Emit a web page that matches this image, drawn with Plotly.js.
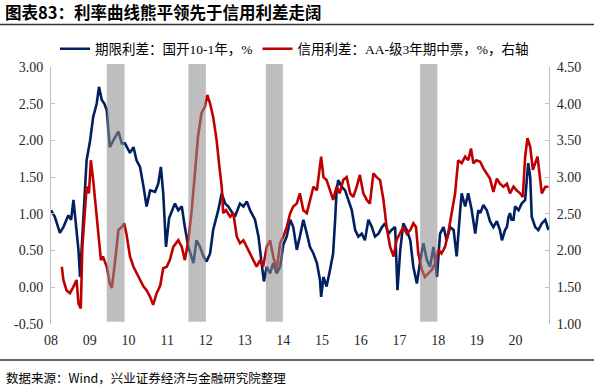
<!DOCTYPE html>
<html><head><meta charset="utf-8">
<script src="https://cdn.plot.ly/plotly-3.0.1.min.js"></script>
<style>html,body{margin:0;padding:0;background:#fff}#chart{width:594px;height:386px}</style>
</head><body><div id="chart"></div>
<script>
// ---------- data ----------
const titleText = '图表83：利率曲线熊平领先于信用利差走阔';
const sourceText = '数据来源：Wind，兴业证券经济与金融研究院整理';
const seriesNames = ['期限利差：国开10-1年，%', '信用利差：AA-级3年期中票，%，右轴'];

// term spread (left axis), decimal years
const termT = [
  2008.00,2008.10,2008.23,2008.32,2008.45,2008.52,2008.58,2008.64,2008.71,2008.75,
  2008.79,2008.88,2008.92,2009.01,2009.09,2009.18,2009.24,2009.31,2009.38,2009.44,
  2009.52,2009.61,2009.74,2009.83,2009.91,2010.04,2010.13,2010.21,2010.30,2010.39,
  2010.47,2010.56,2010.69,2010.77,2010.84,2010.90,2010.97,2011.05,2011.20,2011.29,
  2011.38,2011.46,2011.55,2011.68,2011.76,2011.85,2011.94,2012.02,2012.11,2012.19,
  2012.32,2012.41,2012.50,2012.58,2012.67,2012.75,2012.88,2012.97,2013.06,2013.14,
  2013.27,2013.36,2013.44,2013.50,2013.57,2013.66,2013.74,2013.83,2013.92,2014.00,
  2014.09,2014.18,2014.26,2014.35,2014.43,2014.52,2014.61,2014.69,2014.78,2014.87,
  2014.95,2014.98,2015.04,2015.12,2015.21,2015.29,2015.34,2015.38,2015.42,2015.51,
  2015.60,2015.68,2015.77,2015.86,2015.94,2016.03,2016.11,2016.20,2016.29,2016.37,
  2016.46,2016.55,2016.63,2016.72,2016.80,2016.89,2016.95,2017.02,2017.10,2017.19,
  2017.28,2017.36,2017.45,2017.54,2017.62,2017.71,2017.79,2017.88,2017.97,2018.05,
  2018.14,2018.22,2018.31,2018.40,2018.48,2018.57,2018.61,2018.70,2018.78,2018.87,
  2018.96,2019.04,2019.09,2019.17,2019.26,2019.34,2019.43,2019.52,2019.60,2019.65,
  2019.73,2019.78,2019.82,2019.86,2019.90,2019.95,2019.99,2020.08,2020.16,2020.25,
  2020.33,2020.38,2020.42,2020.51,2020.59,2020.68,2020.77,2020.85
];
const termV = [
  1.05,0.96,0.74,0.82,0.98,0.92,1.19,0.87,0.51,0.14,
  0.55,1.28,1.73,2.00,2.32,2.50,2.73,2.55,2.50,2.41,
  1.91,2.00,2.12,1.96,1.96,1.83,1.91,1.73,1.64,1.37,
  1.10,1.32,1.30,1.41,1.64,1.28,0.55,0.94,1.14,1.05,
  1.10,0.82,0.55,0.33,0.64,0.55,0.42,0.35,0.46,0.78,
  1.05,1.28,1.14,1.10,1.03,0.96,1.14,1.10,1.17,1.05,
  0.92,0.69,0.33,0.08,0.28,0.19,0.33,0.19,0.28,0.58,
  0.69,0.92,0.82,0.51,0.69,0.92,0.73,0.55,0.46,0.33,
  0.10,-0.13,0.14,0.01,0.24,0.46,0.92,1.32,1.46,1.37,
  1.32,1.19,1.05,0.78,0.69,0.73,0.64,0.92,0.82,0.69,
  0.73,0.82,0.87,0.73,0.78,0.82,-0.04,0.50,0.87,0.78,
  0.64,0.28,0.05,0.37,0.60,0.37,0.28,0.55,0.14,0.73,
  0.82,0.64,0.82,0.78,0.42,1.05,1.28,1.10,1.28,1.05,
  0.73,1.05,1.01,1.12,1.05,0.90,0.82,0.90,0.78,0.64,
  0.78,0.82,0.96,1.01,0.92,0.92,1.10,1.05,1.14,1.19,
  1.69,1.50,0.96,0.82,0.78,0.87,0.92,0.78
];

// credit spread (right axis), decimal years
const creditT = [
  2008.28,2008.32,2008.40,2008.49,2008.58,2008.66,2008.71,2008.77,2008.81,2008.86,
  2008.92,2008.98,2009.03,2009.09,2009.14,2009.22,2009.29,2009.34,2009.44,2009.52,
  2009.57,2009.66,2009.74,2009.83,2009.89,2009.95,2010.04,2010.13,2010.21,2010.30,
  2010.39,2010.47,2010.56,2010.64,2010.73,2010.82,2010.90,2010.99,2011.07,2011.16,
  2011.29,2011.38,2011.46,2011.55,2011.63,2011.72,2011.80,2011.89,2011.98,2012.04,
  2012.11,2012.19,2012.28,2012.35,2012.41,2012.45,2012.52,2012.63,2012.71,2012.80,
  2012.88,2012.97,2013.06,2013.14,2013.23,2013.31,2013.40,2013.48,2013.57,2013.66,
  2013.74,2013.83,2013.92,2014.00,2014.09,2014.18,2014.26,2014.35,2014.43,2014.52,
  2014.61,2014.69,2014.78,2014.87,2014.94,2014.98,2015.04,2015.12,2015.21,2015.29,
  2015.38,2015.46,2015.55,2015.64,2015.73,2015.81,2015.90,2015.98,2016.07,2016.16,
  2016.24,2016.33,2016.41,2016.50,2016.59,2016.67,2016.76,2016.85,2016.93,2017.02,
  2017.10,2017.19,2017.28,2017.36,2017.43,2017.49,2017.58,2017.66,2017.75,2017.84,
  2017.92,2018.01,2018.09,2018.18,2018.26,2018.35,2018.44,2018.52,2018.61,2018.70,
  2018.78,2018.85,2018.91,2018.99,2019.09,2019.17,2019.26,2019.34,2019.43,2019.52,
  2019.60,2019.69,2019.78,2019.86,2019.95,2020.03,2020.12,2020.19,2020.25,2020.31,
  2020.38,2020.45,2020.51,2020.57,2020.62,2020.68,2020.77,2020.85
];
const creditV = [
  1.78,1.60,1.46,1.42,1.51,1.60,1.28,1.21,2.05,2.37,
  2.87,2.78,3.23,2.96,2.69,2.32,1.87,1.92,1.78,1.55,
  1.49,1.87,2.28,2.32,2.37,2.23,1.92,1.78,1.69,1.60,
  1.51,1.46,1.37,1.26,1.42,1.52,1.76,1.78,1.87,2.05,
  2.14,2.05,1.87,2.14,2.51,3.05,3.55,3.87,3.96,4.12,
  4.00,3.82,3.50,3.14,2.87,2.51,2.55,2.46,2.51,2.19,
  2.10,2.14,2.05,1.96,1.87,1.78,1.87,1.78,2.05,2.14,
  1.92,1.74,2.10,2.19,2.32,2.51,2.60,2.64,2.78,2.55,
  2.51,2.69,2.87,2.82,3.10,3.28,3.00,2.96,2.82,2.69,
  2.87,2.78,2.96,3.00,2.78,2.73,2.87,3.03,2.78,2.69,
  2.64,3.05,3.00,2.96,2.69,2.32,2.05,1.92,2.15,2.23,
  2.32,2.23,2.28,2.37,2.32,1.96,1.74,1.64,1.69,1.74,
  1.83,2.01,1.96,2.05,2.23,2.51,2.78,3.23,3.19,3.28,
  3.23,3.39,3.19,3.23,3.21,3.12,3.05,2.98,2.80,2.98,
  2.91,2.87,2.91,2.78,2.87,2.82,2.78,2.73,3.28,3.53,
  3.41,3.10,3.19,3.28,3.05,2.78,2.87,2.87
];

// shaded periods
const shadeStart = ['2009-06-10','2011-07-20','2013-07-20','2017-07-15'];
const shadeEnd   = ['2009-11-25','2012-01-01','2013-12-28','2017-12-25'];

// axis ticks
const yearTicks  = ['2008-01-01','2009-01-01','2010-01-01','2011-01-01','2012-01-01','2013-01-01','2014-01-01','2015-01-01','2016-01-01','2017-01-01','2018-01-01','2019-01-01','2020-01-01'];
const yearLabels = ['08','09','10','11','12','13','14','15','16','17','18','19','20'];
const leftTicks  = [-0.5,0,0.5,1,1.5,2,2.5,3];
const rightTicks = [1,1.5,2,2.5,3,3.5,4,4.5];
const xRange = ['2008-01-01','2020-11-12'];

// ---------- helpers ----------
function decYearToDate(t){
  const y = Math.floor(t);
  const a = Date.UTC(y,0,1), b = Date.UTC(y+1,0,1);
  return new Date(a + (t-y)*(b-a)).toISOString().slice(0,10);
}
const W=594, H=386, M={l:51, r:45, t:67, b:62, pad:0};
const pw=W-M.l-M.r, ph=H-M.t-M.b;
const px2x = p => (p-M.l)/pw;
const px2y = p => (H-M.b-p)/ph;
const serif = 'Liberation Serif, "Noto Sans CJK SC", serif';
const axisGrey = '#bfbfbf';
const tickFont = {family: serif, size: 14, color: '#262626'};

const traces = [
  {x: termT.map(decYearToDate), y: termV, type:'scatter', mode:'lines', name: seriesNames[0],
   line:{color:'#002060', width:2.6}, xaxis:'x', yaxis:'y'},
  {x: creditT.map(decYearToDate), y: creditV, type:'scatter', mode:'lines', name: seriesNames[1],
   line:{color:'#C00000', width:2.6}, xaxis:'x', yaxis:'y2'}
];

const shapes = shadeStart.map((s,i)=>({
  type:'rect', xref:'x', yref:'paper', x0:s, x1:shadeEnd[i], y0:px2y(321.7), y1:px2y(64),
  fillcolor:'rgba(140,140,140,0.57)', line:{width:0}, layer:'above'
}));
shapes.push({type:'line', xref:'paper', yref:'paper', x0:px2x(0), x1:px2x(W), y0:px2y(24.6), y1:px2y(24.6), line:{color:'#333333', width:1.5}});
shapes.push({type:'line', xref:'paper', yref:'paper', x0:px2x(0), x1:px2x(W), y0:px2y(360), y1:px2y(360), line:{color:'#333333', width:1.5}});

const layout = {
  width:W, height:H, margin:M,
  paper_bgcolor:'#ffffff', plot_bgcolor:'rgba(0,0,0,0)',
  title:{text:titleText, x:5/W, xref:'container', xanchor:'left', y:1-13/H, yref:'container', yanchor:'middle',
         font:{family:'"Noto Sans CJK SC", sans-serif', size:16.5, weight:700, color:'#000'}},
  showlegend:true,
  legend:{orientation:'h', x:55/W, xref:'container', xanchor:'left', y:1-49/H, yref:'container', yanchor:'middle',
          font:{family:serif, size:13.5, color:'#000'}, itemwidth:30, bgcolor:'rgba(0,0,0,0)', traceorder:'normal'},
  xaxis:{type:'date', range:xRange, tickvals:yearTicks, ticktext:yearLabels, showline:false, ticks:'',
         showgrid:false, zeroline:false, tickfont:tickFont, ticklabelstandoff:6},
  xaxis2:{type:'date', overlaying:'x', anchor:'free', position:0.5/3.5, side:'top', range:xRange, tickvals:yearTicks,
          showticklabels:false, ticks:'outside', ticklen:4, tickcolor:axisGrey, showline:true, linecolor:axisGrey,
          linewidth:1, showgrid:false, zeroline:false},
  yaxis:{range:[-0.5,3], tickvals:leftTicks, ticktext:leftTicks.map(v=>v.toFixed(2)), showline:true, linecolor:axisGrey,
         ticks:'inside', ticklen:4, tickcolor:axisGrey, showgrid:false, zeroline:false, tickfont:tickFont, ticklabelstandoff:4},
  yaxis2:{range:[1,4.5], overlaying:'y', side:'right', anchor:'x', tickvals:rightTicks, ticktext:rightTicks.map(v=>v.toFixed(2)),
          showline:true, linecolor:axisGrey, ticks:'inside', ticklen:4, tickcolor:axisGrey, showgrid:false, zeroline:false,
          tickfont:tickFont, ticklabelstandoff:4},
  shapes:shapes,
  annotations:[{text:sourceText, xref:'paper', yref:'paper', x:px2x(4), y:px2y(377), xanchor:'left', yanchor:'middle',
                showarrow:false, font:{family:'"Noto Sans CJK SC", sans-serif', size:12.5, color:'#000'}}]
};

Plotly.newPlot('chart', traces, layout, {displayModeBar:false, staticPlot:true});
</script>
</body></html>
